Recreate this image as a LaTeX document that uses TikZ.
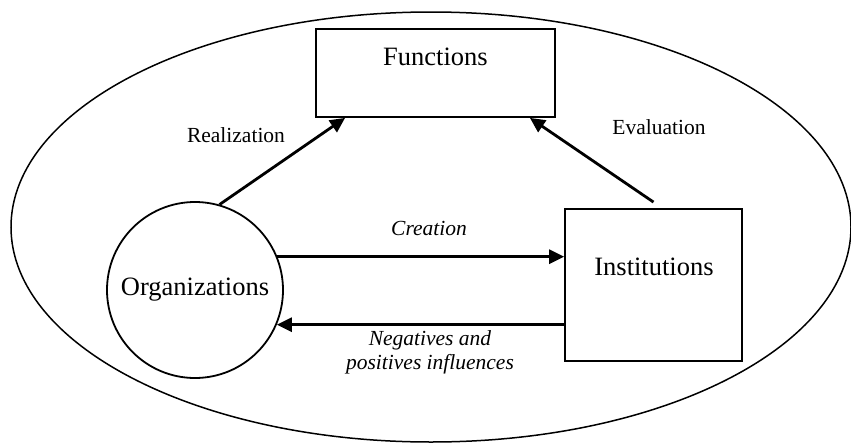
\documentclass[tikz,border=0pt]{standalone}
\usepackage{fontspec}
\setmainfont{Liberation Serif}
\usetikzlibrary{arrows.meta,calc}
\begin{document}
\begin{tikzpicture}[x=1pt,y=-1pt,
  shapebox/.style={draw,line width=1.8pt,inner sep=0pt},
  bigtext/.style={font=\fontsize{26.5}{30}\selectfont,inner sep=0pt},
  smalltext/.style={font=\fontsize{21.5}{24}\selectfont,inner sep=0pt,align=center},
  flow/.style={line width=2.8pt,-{Triangle[length=15pt,width=14pt]}}]
\useasboundingbox (0,0) rectangle (851,442);
\draw[line width=1.5pt] (431,227) ellipse [x radius=420pt, y radius=215pt];
\node[shapebox,minimum width=239pt,minimum height=88pt] (func) at (435.5,73) {};
\node[bigtext] (functxt) at (435.5,57) {Functions};
\node[shapebox,circle,minimum size=176pt] (org) at (195,290) {};
\node[bigtext] (orgtxt) at (195,290) {Organizations};
\node[shapebox,minimum width=177pt,minimum height=152pt] (inst) at (653.5,285) {};
\node[bigtext] (insttxt) at (654,267) {Institutions};
\draw[flow] (org.74) -- ([xshift=30pt]func.south west);
\draw[flow] ([yshift=6pt]inst.north) -- ([xshift=-26pt]func.south east);
\draw[flow] (org.22) -- (org.22 -| inst.west);
\draw[flow] (org.-23.4 -| inst.west) -- (org.-23.4);
\node[smalltext] (lreal) at (236,135) {Realization};
\node[smalltext] (leval) at (659,127) {Evaluation};
\node[smalltext,font=\fontsize{21.5}{24}\selectfont\itshape] (lcre) at (429,228) {Creation};
\node[smalltext,font=\fontsize{21.5}{24}\selectfont\itshape] (lneg) at (430,352) {Negatives and\\positives influences};
\end{tikzpicture}
\end{document}
